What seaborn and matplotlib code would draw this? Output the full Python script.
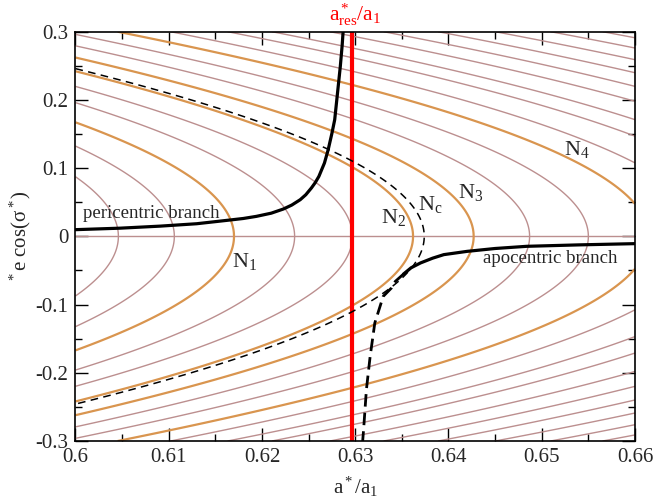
import numpy as np
import pandas as pd
import matplotlib
matplotlib.use("Agg")
import matplotlib.pyplot as plt
import seaborn as sns
from matplotlib.ticker import MultipleLocator

# ---------------- data ----------------
# vertices (e cos(sigma*) = 0) of the N = const level curves, in a*/a1
brown_vertices = [0.6046, 0.6106, 0.6235, 0.6297, 0.6487, 0.6550, 0.6677,
                  0.6744, 0.6796, 0.6864, 0.6927, 0.6991, 0.7058, 0.7123, 0.7184]
orange_vertices = [0.6170, 0.6362, 0.6427, 0.6615]      # N1, N2, N3, N4
critical_vertex = [0.6374]                               # Nc

# pericentric branch (stable)
peri_a = [0.6000, 0.6048, 0.6091, 0.6130, 0.6166, 0.6180, 0.6194, 0.6210, 0.6223,
          0.6232, 0.6241, 0.6247, 0.6253, 0.6257, 0.6261, 0.6267, 0.6271, 0.6275,
          0.6278, 0.6281, 0.6284, 0.6286, 0.6287]
peri_y = [0.0098, 0.0120, 0.0150, 0.0185, 0.0240, 0.0262, 0.0293, 0.0340, 0.0401,
          0.0459, 0.0537, 0.0610, 0.0709, 0.0785, 0.0878, 0.1075, 0.1270, 0.1510,
          0.1710, 0.2100, 0.2490, 0.2800, 0.3000]
# apocentric branch (stable)
apo_a = [0.6352, 0.6360, 0.6370, 0.6383, 0.6395, 0.6420, 0.6450, 0.6484, 0.6540, 0.6600]
apo_y = [-0.0550, -0.0460, -0.0390, -0.0320, -0.0268, -0.0220, -0.0178, -0.0146, -0.0125, -0.0107]
# unstable branch
uns_a = [0.6352, 0.6343, 0.6339, 0.6330, 0.6321, 0.6316, 0.6312, 0.6309, 0.6308]
uns_y = [-0.0550, -0.0660, -0.0755, -0.0880, -0.1270, -0.1760, -0.2245, -0.2830, -0.3000]

a_res = 0.6297

x_ticks = [0.60, 0.61, 0.62, 0.63, 0.64, 0.65, 0.66]
x_ticklabels = ["0.6", "0.61", "0.62", "0.63", "0.64", "0.65", "0.66"]
y_ticks = [-0.3, -0.2, -0.1, 0.0, 0.1, 0.2, 0.3]
y_ticklabels = ["-0.3", "-0.2", "-0.1", "0", "0.1", "0.2", "0.3"]

# ---------------- style ----------------
sns.set_theme(style="ticks")
plt.rcParams["font.family"] = ["Liberation Serif", "DejaVu Serif"]
plt.rcParams["mathtext.fontset"] = "custom"
plt.rcParams["mathtext.rm"] = "Liberation Serif"
plt.rcParams["mathtext.it"] = "Liberation Serif:italic"
plt.rcParams["axes.unicode_minus"] = False

BROWN = "#bc8f8f"
ORANGE = "#d9954f"

fig = plt.figure(figsize=(6.54, 5.04), dpi=100)
ax = fig.add_axes([0.1154, 0.125, 0.9709 - 0.1154, 0.9371 - 0.125])

# level-curve field of the conserved quantity N(a, e)
ag = np.linspace(0.6, 0.66, 900)
yg = np.linspace(-0.3, 0.3, 1201)
A, Y = np.meshgrid(ag, yg)
Nfield = np.sqrt(A) * (2.0 - np.sqrt(1.0 - Y ** 2))

ax.contour(A, Y, Nfield, levels=np.sqrt(sorted(brown_vertices)),
           colors=BROWN, linewidths=1.0, zorder=1)
ax.contour(A, Y, Nfield, levels=np.sqrt(sorted(orange_vertices)),
           colors=ORANGE, linewidths=1.6, zorder=1.2)
ax.contour(A, Y, Nfield, levels=np.sqrt(critical_vertex),
           colors="black", linewidths=1.1, linestyles=[(0, (5, 3.5))], zorder=3)
ax.axhline(0.0, color=BROWN, lw=1.0, zorder=1)

ax.axvline(a_res, color="#ff0000", lw=3.0, zorder=2)

peri = pd.DataFrame({"a": peri_a, "y": peri_y})
apo = pd.DataFrame({"a": apo_a, "y": apo_y})
uns = pd.DataFrame({"a": uns_a, "y": uns_y})
sns.lineplot(data=peri, x="a", y="y", sort=False, estimator=None, color="black", lw=2.3, ax=ax, zorder=4)
sns.lineplot(data=apo, x="a", y="y", sort=False, estimator=None, color="black", lw=2.3, ax=ax, zorder=4)
l = sns.lineplot(data=uns, x="a", y="y", sort=False, estimator=None, color="black", lw=2.0, ax=ax, zorder=4)
l.lines[-1].set_dashes((4.5, 2.2))

ax.set_xlim(0.6, 0.66)
ax.set_ylim(-0.3, 0.3)
ax.set_xticks(x_ticks)
ax.set_xticklabels(x_ticklabels)
ax.set_yticks(y_ticks)
ax.set_yticklabels(y_ticklabels)
ax.xaxis.set_minor_locator(MultipleLocator(0.005))
ax.yaxis.set_minor_locator(MultipleLocator(0.05))
ax.tick_params(which="both", direction="in", top=True, right=True, width=1.0, color="black")
ax.tick_params(which="major", length=9.5, labelsize=15, pad=5)
ax.tick_params(which="minor", length=5)
for s in ax.spines.values():
    s.set_linewidth(1.2)
    s.set_color("black")

ax.set_xlabel(r"a$^*$/a$_1$", fontsize=15, labelpad=6)
ax.set_ylabel(r"${}^*$e cos(σ$^*$)", fontsize=15, labelpad=2)

ax.text(0.6008, 0.027, "pericentric branch", fontsize=13.5, ha="left", va="baseline", zorder=5)
ax.text(0.6437, -0.039, "apocentric branch", fontsize=13.5, ha="left", va="baseline", zorder=5)
ax.text(0.6168, -0.0444, r"N$_1$", fontsize=16, ha="left", va="baseline", zorder=5)
ax.text(0.6328, 0.020, r"N$_2$", fontsize=16, ha="left", va="baseline", zorder=5)
ax.text(0.63675, 0.039, r"N$_\mathrm{c}$", fontsize=16, ha="left", va="baseline", zorder=5)
ax.text(0.6410, 0.0567, r"N$_3$", fontsize=16, ha="left", va="baseline", zorder=5)
ax.text(0.6524, 0.1196, r"N$_4$", fontsize=16, ha="left", va="baseline", zorder=5)
ax.text(0.6272, 0.3160, r"a$^*_\mathrm{res}$/a$_1$", fontsize=15.5, color="#ff0000",
        ha="left", va="baseline", clip_on=False)

fig.savefig("out.png", dpi=100)
